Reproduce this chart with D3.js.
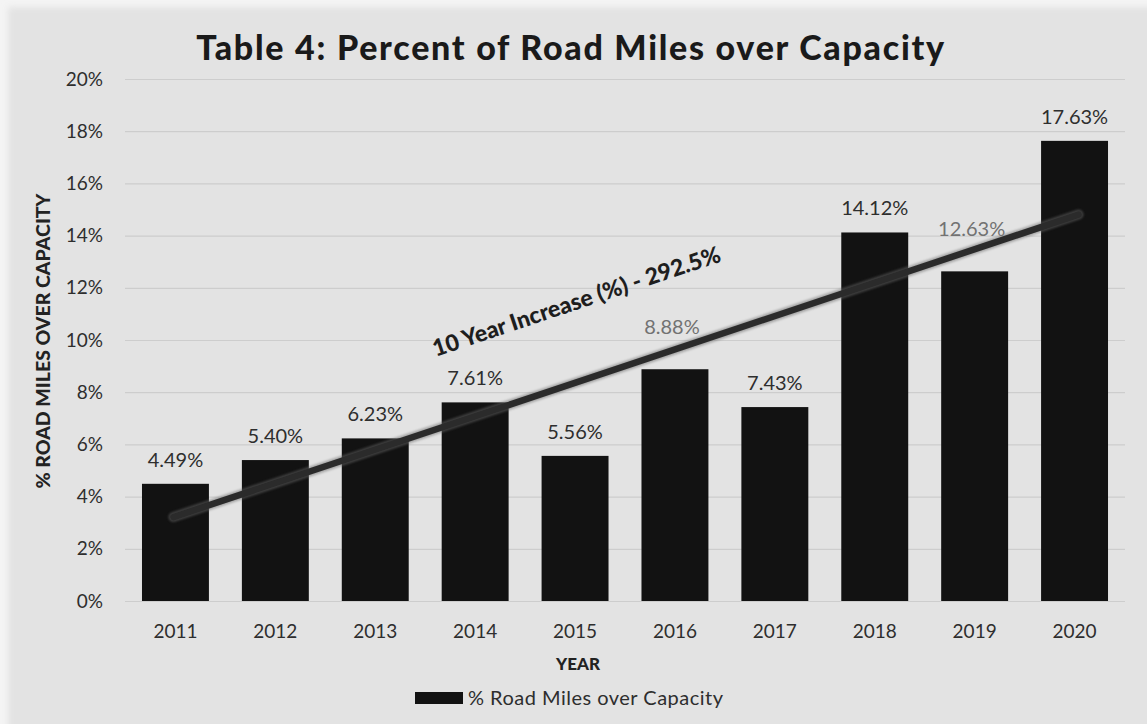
<!DOCTYPE html>
<html>
<head>
<meta charset="utf-8">
<script src="https://cdn.jsdelivr.net/npm/d3@7"></script>
<style>
  html, body { margin: 0; padding: 0; background: #ffffff; }
  svg { display: block; }
</style>
</head>
<body>
<svg id="chart" width="1147" height="724"></svg>
<script>
// Share of road miles running over capacity, by year
const years = ["2011", "2012", "2013", "2014", "2015", "2016", "2017", "2018", "2019", "2020"];
const shares = [4.49, 5.40, 6.23, 7.61, 5.56, 8.88, 7.43, 14.12, 12.63, 17.63];
// labels raised clear of the trend line are drawn in a lighter tone
const labelTones = ["dark", "dark", "dark", "dark", "dark", "light", "dark", "dark", "light", "dark"];
const yTicks = [0, 2, 4, 6, 8, 10, 12, 14, 16, 18, 20];

const chartTitle = "Table 4: Percent of Road Miles over Capacity";
const yTitle = "% ROAD MILES OVER CAPACITY";
const xTitle = "YEAR";
const seriesName = "% Road Miles over Capacity";
const trendNote = "10 Year Increase (%) - 292.5%";

const W = 1147, H = 724;
const FONT = "Lato, 'Open Sans', sans-serif";
const INK = "#2e2e2e";
const svg = d3.select("#chart");

// stretch a text run with letter spacing until it spans the given width
function spreadTo(sel, width) {
  const node = sel.node();
  const w = node.getComputedTextLength();
  const n = node.textContent.length;
  if (n > 1 && width > w) sel.attr("letter-spacing", (width - w) / (n - 1));
  return sel;
}

// soft edges for the panel and the trend stroke
const defs = svg.append("defs");
defs.append("filter").attr("id", "soft").attr("x", "-5%").attr("y", "-5%")
  .attr("width", "110%").attr("height", "110%")
  .append("feGaussianBlur").attr("stdDeviation", 3);
defs.append("filter").attr("id", "trendBlur").attr("x", "-5%").attr("y", "-20%")
  .attr("width", "110%").attr("height", "140%")
  .append("feGaussianBlur").attr("stdDeviation", 0.9);

// chart panel
svg.append("rect").attr("x", 0).attr("y", 0).attr("width", W).attr("height", H).attr("fill", "#f4f4f4");
svg.append("rect").attr("x", 8).attr("y", 7).attr("width", W).attr("height", H)
  .attr("fill", "#e3e3e3").attr("filter", "url(#soft)");

const x = d3.scaleBand().domain(years).range([125.5, 1124.5]).paddingInner(0.33).paddingOuter(0.165);
const y = d3.scaleLinear().domain([0, 20]).range([601, 79]);

// horizontal gridlines
const grid = svg.append("g").attr("transform", "translate(125,0)")
  .call(d3.axisLeft(y).tickValues(yTicks).tickSize(-1000).tickFormat(""));
grid.select(".domain").remove();
grid.selectAll(".tick line").attr("stroke", "#cdcdcd").attr("stroke-width", 1.2);

// y axis labels
const yAxis = svg.append("g").attr("transform", "translate(103,0)")
  .call(d3.axisLeft(y).tickValues(yTicks).tickSize(0).tickPadding(0).tickFormat(d => d + "%"));
yAxis.select(".domain").remove();
yAxis.selectAll("text").attr("font-family", FONT).attr("font-size", 19).attr("fill", INK);

// bars
svg.append("g").selectAll("rect").data(shares).join("rect")
  .attr("x", (d, i) => x(years[i]))
  .attr("y", d => y(d))
  .attr("width", x.bandwidth())
  .attr("height", d => y(0) - y(d))
  .attr("fill", "#121212");

// x axis labels
const xAxis = svg.append("g").attr("transform", "translate(0,624)")
  .call(d3.axisBottom(x).tickSize(0).tickPadding(0));
xAxis.select(".domain").remove();
xAxis.selectAll("text").attr("font-family", FONT).attr("font-size", 19).attr("fill", INK);

// linear trend (least squares over the yearly values)
const idx = shares.map((d, i) => i);
const mx = d3.mean(idx), my = d3.mean(shares);
const slope = d3.sum(idx, i => (i - mx) * (shares[i] - my)) / d3.sum(idx, i => (i - mx) ** 2);
const fit = i => my + slope * (i - mx);
const cx = i => x(years[i]) + x.bandwidth() / 2;
const last = years.length - 1;
const trend = [[cx(0) - 2, y(fit(0 - 2 / x.step()))], [cx(last) + 4, y(fit(last + 4 / x.step()))]];
svg.append("path")
  .attr("d", d3.line()(trend))
  .attr("stroke", "#6a6a6a").attr("stroke-width", 10).attr("stroke-linecap", "round")
  .attr("fill", "none").attr("opacity", 0.5).attr("filter", "url(#trendBlur)");
svg.append("path")
  .attr("d", d3.line()(trend))
  .attr("stroke", "#2b2b2b").attr("stroke-width", 6.5).attr("stroke-linecap", "round")
  .attr("fill", "none");

// value labels
svg.append("g").selectAll("text").data(shares).join("text")
  .attr("x", (d, i) => cx(i) - (labelTones[i] === "light" ? 3 : 0))
  .attr("y", (d, i) => y(d) - (labelTones[i] === "light" ? 35 : 17))
  .attr("text-anchor", "middle")
  .attr("font-family", FONT).attr("font-size", 20)
  .attr("fill", (d, i) => labelTones[i] === "light" ? "#727272" : INK)
  .text(d => d.toFixed(2) + "%");

// annotation along the trend
const angle = Math.atan2(trend[1][1] - trend[0][1], trend[1][0] - trend[0][0]) * 180 / Math.PI;
svg.append("text")
  .attr("transform", `translate(579,309) rotate(${angle})`)
  .attr("text-anchor", "middle")
  .attr("font-family", FONT).attr("font-weight", 900).attr("font-size", 23)
  .attr("fill", "#1e1e1e")
  .text(trendNote);

// title
spreadTo(svg.append("text")
  .attr("x", 571).attr("y", 60)
  .attr("text-anchor", "middle")
  .attr("font-family", FONT).attr("font-weight", 900).attr("font-size", 34)
  .attr("fill", "#1a1a1a")
  .text(chartTitle), 748);

// axis titles
svg.append("text")
  .attr("transform", "translate(50,341) rotate(-90)")
  .attr("text-anchor", "middle")
  .attr("font-family", FONT).attr("font-weight", 900).attr("font-size", 19.5)
  .attr("fill", "#222")
  .text(yTitle);
svg.append("text")
  .attr("x", 578).attr("y", 670)
  .attr("text-anchor", "middle")
  .attr("font-family", FONT).attr("font-weight", 900).attr("font-size", 17)
  .attr("fill", "#222")
  .text(xTitle);

// legend
const legend = svg.append("g").attr("transform", "translate(415,692)");
legend.append("rect").attr("x", 0).attr("y", 0).attr("width", 48).attr("height", 12).attr("fill", "#121212");
spreadTo(legend.append("text").attr("x", 53).attr("y", 13)
  .attr("font-family", FONT).attr("font-size", 20).attr("fill", INK)
  .text(seriesName), 255);
</script>
</body>
</html>
